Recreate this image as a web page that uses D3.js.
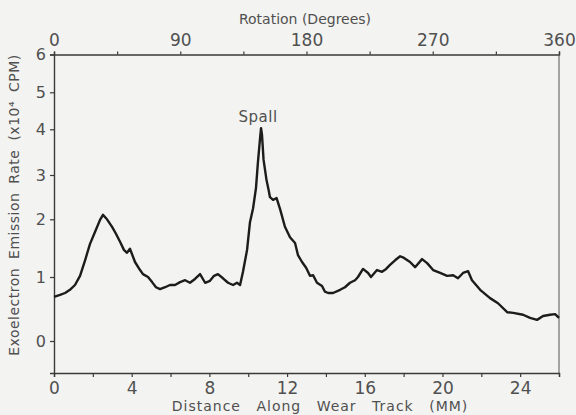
<!DOCTYPE html>
<html>
<head>
<meta charset="utf-8">
<script src="https://cdn.jsdelivr.net/npm/d3@7"></script>
<style>
  html, body { margin: 0; padding: 0; background: #f3f3f1; }
  svg { display: block; }
  text { font-family: "DejaVu Sans", sans-serif; fill: #505050; }
</style>
</head>
<body>
<svg id="chart" width="576" height="415"></svg>
<script>
// Distance along wear track (mm)
const distanceMM = [0, 0.31, 0.57, 0.82, 1.08, 1.34, 1.60, 1.85, 2.11, 2.37, 2.52, 2.73, 2.99, 3.19, 3.40, 3.60, 3.76, 3.91, 4.17, 4.43, 4.58, 4.84, 5.05, 5.25, 5.46, 5.72, 5.97, 6.23, 6.49, 6.75, 7.00, 7.26, 7.52, 7.78, 8.03, 8.24, 8.44, 8.70, 8.96, 9.22, 9.42, 9.58, 9.73, 9.94, 10.09, 10.25, 10.40, 10.50, 10.61, 10.66, 10.71, 10.79, 10.94, 11.05, 11.12, 11.28, 11.46, 11.64, 11.89, 12.15, 12.41, 12.56, 12.77, 12.98, 13.18, 13.34, 13.54, 13.80, 13.95, 14.11, 14.37, 14.73, 14.98, 15.24, 15.50, 15.65, 15.91, 16.17, 16.32, 16.63, 16.89, 17.10, 17.30, 17.56, 17.82, 18.02, 18.33, 18.59, 18.95, 19.21, 19.52, 19.88, 20.24, 20.55, 20.80, 21.06, 21.32, 21.52, 21.94, 22.45, 22.86, 23.33, 23.64, 24.15, 24.51, 24.87, 25.18, 25.54, 25.80, 26.0];

// Exoelectron emission rate (x10^4 CPM)
const emissionRate = [0.69, 0.72, 0.75, 0.80, 0.875, 1.02, 1.29, 1.57, 1.78, 1.99, 2.10, 2.00, 1.87, 1.75, 1.61, 1.47, 1.42, 1.49, 1.26, 1.12, 1.05, 1.00, 0.92, 0.84, 0.81, 0.84, 0.875, 0.875, 0.92, 0.95, 0.91, 0.97, 1.05, 0.91, 0.94, 1.02, 1.05, 0.98, 0.91, 0.875, 0.91, 0.875, 1.09, 1.47, 1.95, 2.25, 2.71, 3.28, 3.81, 4.03, 3.87, 3.33, 2.89, 2.66, 2.50, 2.44, 2.48, 2.23, 1.87, 1.69, 1.59, 1.38, 1.26, 1.16, 1.02, 1.03, 0.91, 0.86, 0.77, 0.75, 0.75, 0.80, 0.84, 0.91, 0.95, 1.00, 1.14, 1.07, 1.00, 1.12, 1.09, 1.14, 1.21, 1.29, 1.36, 1.33, 1.26, 1.17, 1.31, 1.24, 1.12, 1.07, 1.02, 1.03, 0.98, 1.07, 1.10, 0.95, 0.80, 0.67, 0.59, 0.45, 0.44, 0.41, 0.36, 0.33, 0.39, 0.41, 0.42, 0.36];

const yTickValues = [0, 1, 2, 3, 4, 5, 6];
const xTickValues = [0, 2, 4, 6, 8, 10, 12, 14, 16, 18, 20, 22, 24, 26];
const xTickLabels = [0, 4, 8, 12, 16, 20, 24];
const rotTickValues = [0, 45, 90, 135, 180, 225, 270, 315, 360];
const rotTickLabels = [0, 90, 180, 270, 360];
const spallLabel = { text: "Spall", mm: 10.66, rate: 4.03 };

const svg = d3.select("#chart");
const plotLeft = 54, plotRight = 559, plotTop = 54.5, plotBottom = 373;

const x = d3.scaleLinear().domain([0, 26]).range([plotLeft, plotRight]);
const rot = d3.scaleLinear().domain([0, 360]).range([plotLeft, plotRight]);
// The recorder's rate scale is not uniform: units are compressed toward the top.
const y = d3.scaleLinear()
  .domain([-0.5, 0, 1, 2, 3, 4, 5, 6])
  .range([plotBottom, 341, 277, 219.3, 175, 129.3, 92.3, plotTop]);

const axisColor = "#3a3a3a";

function styleAxis(g) {
  g.select(".domain").attr("stroke", axisColor).attr("stroke-width", 1.4);
  g.selectAll(".tick line").attr("stroke", axisColor).attr("stroke-width", 1.2);
  g.selectAll(".tick text").style("font-family", "DejaVu Sans, sans-serif").attr("fill", "#555");
}

// Bottom axis: distance
svg.append("g")
  .attr("transform", `translate(0,${plotBottom})`)
  .call(d3.axisBottom(x).tickValues(xTickValues).tickSizeOuter(0).tickSize(4).tickPadding(5)
    .tickFormat(d => xTickLabels.includes(d) ? d : ""))
  .call(styleAxis)
  .call(g => g.selectAll(".tick text").style("font-size", "17px"));

// Top axis: rotation
svg.append("g")
  .attr("transform", `translate(0,${plotTop})`)
  .call(d3.axisTop(rot).tickValues(rotTickValues).tickSizeOuter(0).tickSize(3).tickPadding(6)
    .tickFormat(d => rotTickLabels.includes(d) ? d : ""))
  .call(styleAxis)
  .call(g => g.selectAll(".tick text").style("font-size", "17px"));

// Left axis: emission rate
svg.append("g")
  .attr("transform", `translate(${plotLeft},0)`)
  .call(d3.axisLeft(y).tickValues(yTickValues).tickSizeOuter(0).tickSize(4).tickPadding(4)
    .tickFormat(d3.format("d")))
  .call(styleAxis)
  .call(g => g.selectAll(".tick text").style("font-size", "16px"));

// Right border
svg.append("line")
  .attr("x1", plotRight).attr("x2", plotRight)
  .attr("y1", plotTop).attr("y2", plotBottom)
  .attr("stroke", "#555").attr("stroke-width", 1);

// Emission trace
const line = d3.line()
  .x((d, i) => x(distanceMM[i]))
  .y(d => y(d));

svg.append("path")
  .datum(emissionRate)
  .attr("d", line)
  .attr("fill", "none")
  .attr("stroke", "#1c1c1c")
  .attr("stroke-width", 2.4)
  .attr("stroke-linejoin", "round");

// Labels
svg.append("text")
  .attr("x", x(spallLabel.mm) - 3).attr("y", y(spallLabel.rate) - 6)
  .attr("text-anchor", "middle")
  .style("font-size", "15px")
  .style("letter-spacing", "0.5px")
  .text(spallLabel.text);

svg.append("text")
  .attr("x", 305).attr("y", 24)
  .attr("text-anchor", "middle")
  .style("font-size", "14px")
  .text("Rotation (Degrees)");

svg.append("text")
  .attr("x", 320).attr("y", 411)
  .attr("text-anchor", "middle")
  .style("font-size", "14px")
  .style("letter-spacing", "1px")
  .style("word-spacing", "10px")
  .text("Distance Along Wear Track (MM)");

svg.append("text")
  .attr("transform", "translate(19,205) rotate(-90)")
  .attr("text-anchor", "middle")
  .style("font-size", "14px")
  .style("letter-spacing", "0.5px")
  .style("word-spacing", "4px")
  .text("Exoelectron Emission Rate (x10⁴ CPM)");
</script>
</body>
</html>
